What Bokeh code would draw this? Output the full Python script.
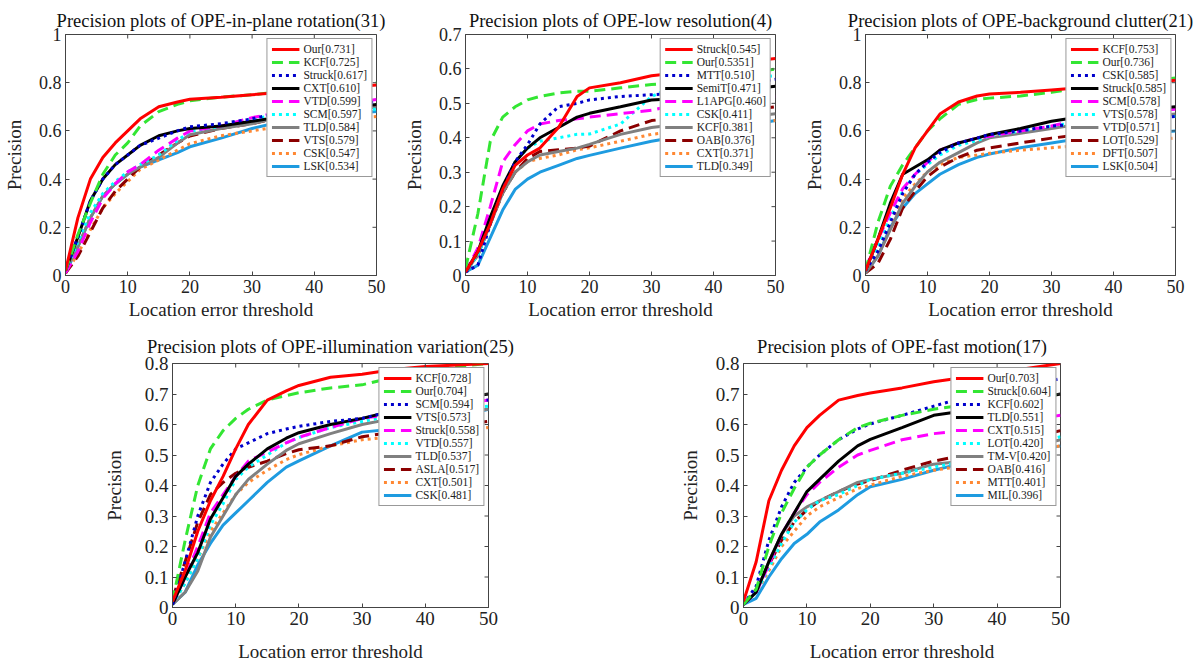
import math
from bokeh.plotting import figure
from bokeh.layouts import row, column
from bokeh.models import (Range1d, FixedTicker, Legend, LegendItem,
                          CustomJSTickFormatter, Spacer)
from bokeh.embed import file_html
from bokeh.resources import INLINE

# ---------------- data ----------------
X = [0, 2, 4, 6, 8, 10, 12, 15, 18, 20, 25, 30, 35, 40, 50]
X_TICKS = [0, 10, 20, 30, 40, 50]

P1_TITLE = "Precision plots of OPE-in-plane rotation(31)"
P1_NAMES = ["Our", "KCF", "Struck", "CXT", "VTD", "SCM", "TLD", "VTS", "CSK", "LSK"]
P1_SCORES = ["0.731", "0.725", "0.617", "0.610", "0.599", "0.597", "0.584", "0.579", "0.547", "0.534"]
P1_Y = [
    [0.02, 0.24, 0.40, 0.49, 0.55, 0.60, 0.65, 0.70, 0.72, 0.731, 0.74, 0.75, 0.76, 0.77, 0.79],
    [0.02, 0.17, 0.30, 0.42, 0.50, 0.55, 0.62, 0.68, 0.71, 0.725, 0.74, 0.75, 0.765, 0.78, 0.80],
    [0.02, 0.16, 0.31, 0.40, 0.46, 0.50, 0.54, 0.57, 0.60, 0.617, 0.63, 0.65, 0.68, 0.70, 0.72],
    [0.02, 0.16, 0.31, 0.40, 0.46, 0.50, 0.54, 0.58, 0.60, 0.610, 0.62, 0.64, 0.66, 0.68, 0.71],
    [0.01, 0.10, 0.22, 0.32, 0.38, 0.43, 0.46, 0.52, 0.57, 0.599, 0.62, 0.655, 0.68, 0.70, 0.73],
    [0.02, 0.14, 0.26, 0.34, 0.39, 0.43, 0.46, 0.50, 0.56, 0.597, 0.62, 0.65, 0.67, 0.68, 0.69],
    [0.02, 0.12, 0.24, 0.33, 0.38, 0.42, 0.45, 0.49, 0.55, 0.584, 0.61, 0.63, 0.66, 0.68, 0.70],
    [0.01, 0.08, 0.18, 0.28, 0.35, 0.40, 0.45, 0.50, 0.55, 0.579, 0.61, 0.63, 0.66, 0.68, 0.70],
    [0.01, 0.09, 0.19, 0.28, 0.34, 0.39, 0.44, 0.48, 0.52, 0.547, 0.58, 0.60, 0.62, 0.64, 0.66],
    [0.01, 0.12, 0.24, 0.33, 0.38, 0.42, 0.45, 0.48, 0.51, 0.534, 0.57, 0.61, 0.64, 0.66, 0.68],
]
P1_YMAX = 1.0
P1_YTICKS = [0, 0.2, 0.4, 0.6, 0.8, 1.0]

P2_TITLE = "Precision plots of OPE-low resolution(4)"
P2_NAMES = ["Struck", "Our", "MTT", "SemiT", "L1APG", "CSK", "KCF", "OAB", "CXT", "TLD"]
P2_SCORES = ["0.545", "0.5351", "0.510", "0.471", "0.460", "0.411", "0.381", "0.376", "0.371", "0.349"]
P2_Y = [
    [0.01, 0.07, 0.15, 0.25, 0.32, 0.35, 0.37, 0.43, 0.52, 0.545, 0.56, 0.58, 0.59, 0.61, 0.63],
    [0.02, 0.18, 0.39, 0.46, 0.49, 0.51, 0.52, 0.53, 0.535, 0.535, 0.545, 0.555, 0.56, 0.57, 0.60],
    [0.01, 0.03, 0.15, 0.25, 0.33, 0.38, 0.44, 0.49, 0.50, 0.510, 0.52, 0.525, 0.53, 0.54, 0.57],
    [0.01, 0.07, 0.17, 0.26, 0.33, 0.37, 0.40, 0.43, 0.46, 0.471, 0.49, 0.51, 0.515, 0.53, 0.55],
    [0.01, 0.08, 0.20, 0.33, 0.38, 0.42, 0.44, 0.45, 0.455, 0.460, 0.47, 0.48, 0.50, 0.51, 0.52],
    [0.01, 0.06, 0.15, 0.25, 0.33, 0.37, 0.39, 0.40, 0.41, 0.411, 0.44, 0.52, 0.56, 0.57, 0.58],
    [0.01, 0.06, 0.15, 0.24, 0.30, 0.33, 0.35, 0.36, 0.37, 0.381, 0.41, 0.43, 0.44, 0.45, 0.47],
    [0.01, 0.06, 0.15, 0.24, 0.30, 0.34, 0.36, 0.365, 0.37, 0.376, 0.42, 0.45, 0.46, 0.47, 0.49],
    [0.01, 0.06, 0.15, 0.24, 0.30, 0.33, 0.34, 0.35, 0.365, 0.371, 0.39, 0.41, 0.42, 0.43, 0.45],
    [0.01, 0.03, 0.11, 0.19, 0.25, 0.28, 0.30, 0.32, 0.34, 0.349, 0.37, 0.39, 0.405, 0.42, 0.45],
]
P2_YMAX = 0.7
P2_YTICKS = [0, 0.1, 0.2, 0.3, 0.4, 0.5, 0.6, 0.7]

P3_TITLE = "Precision plots of OPE-background clutter(21)"
P3_NAMES = ["KCF", "Our", "CSK", "Struck", "SCM", "VTS", "VTD", "LOT", "DFT", "LSK"]
P3_SCORES = ["0.753", "0.736", "0.585", "0.585", "0.578", "0.578", "0.571", "0.529", "0.507", "0.504"]
P3_Y = [
    [0.02, 0.15, 0.28, 0.42, 0.53, 0.60, 0.67, 0.72, 0.745, 0.753, 0.76, 0.77, 0.78, 0.79, 0.81],
    [0.02, 0.22, 0.37, 0.46, 0.53, 0.60, 0.65, 0.71, 0.73, 0.736, 0.745, 0.76, 0.78, 0.79, 0.82],
    [0.02, 0.10, 0.22, 0.34, 0.42, 0.47, 0.51, 0.55, 0.57, 0.585, 0.60, 0.62, 0.63, 0.64, 0.66],
    [0.02, 0.15, 0.30, 0.42, 0.45, 0.48, 0.52, 0.55, 0.57, 0.585, 0.61, 0.64, 0.66, 0.68, 0.70],
    [0.03, 0.15, 0.26, 0.36, 0.42, 0.47, 0.52, 0.55, 0.57, 0.578, 0.60, 0.62, 0.65, 0.67, 0.69],
    [0.02, 0.12, 0.24, 0.35, 0.42, 0.46, 0.50, 0.54, 0.56, 0.578, 0.60, 0.62, 0.64, 0.65, 0.66],
    [0.01, 0.08, 0.19, 0.30, 0.37, 0.43, 0.47, 0.51, 0.55, 0.571, 0.59, 0.61, 0.63, 0.65, 0.67],
    [0.01, 0.05, 0.15, 0.28, 0.35, 0.41, 0.45, 0.49, 0.52, 0.529, 0.55, 0.57, 0.585, 0.59, 0.60],
    [0.02, 0.10, 0.20, 0.32, 0.38, 0.43, 0.46, 0.49, 0.50, 0.507, 0.52, 0.53, 0.54, 0.55, 0.57],
    [0.01, 0.08, 0.20, 0.28, 0.34, 0.38, 0.42, 0.46, 0.49, 0.504, 0.53, 0.55, 0.57, 0.58, 0.60],
]
P3_YMAX = 1.0
P3_YTICKS = [0, 0.2, 0.4, 0.6, 0.8, 1.0]

P4_TITLE = "Precision plots of OPE-illumination variation(25)"
P4_NAMES = ["KCF", "Our", "SCM", "VTS", "Struck", "VTD", "TLD", "ASLA", "CXT", "CSK"]
P4_SCORES = ["0.728", "0.704", "0.594", "0.573", "0.558", "0.557", "0.537", "0.517", "0.501", "0.481"]
P4_Y = [
    [0.02, 0.12, 0.25, 0.35, 0.43, 0.52, 0.60, 0.68, 0.71, 0.728, 0.755, 0.765, 0.78, 0.79, 0.80],
    [0.02, 0.22, 0.40, 0.52, 0.58, 0.62, 0.65, 0.68, 0.695, 0.704, 0.72, 0.73, 0.755, 0.78, 0.80],
    [0.01, 0.15, 0.30, 0.41, 0.47, 0.52, 0.54, 0.57, 0.585, 0.594, 0.61, 0.62, 0.645, 0.66, 0.68],
    [0.01, 0.10, 0.18, 0.29, 0.36, 0.43, 0.47, 0.52, 0.555, 0.573, 0.60, 0.62, 0.645, 0.67, 0.70],
    [0.01, 0.10, 0.20, 0.31, 0.37, 0.43, 0.48, 0.51, 0.54, 0.558, 0.59, 0.62, 0.635, 0.65, 0.68],
    [0.01, 0.08, 0.16, 0.27, 0.34, 0.42, 0.46, 0.50, 0.54, 0.557, 0.59, 0.61, 0.63, 0.64, 0.66],
    [0.01, 0.05, 0.12, 0.23, 0.30, 0.37, 0.42, 0.47, 0.515, 0.537, 0.57, 0.60, 0.62, 0.63, 0.65],
    [0.03, 0.15, 0.28, 0.37, 0.41, 0.44, 0.46, 0.48, 0.505, 0.517, 0.53, 0.56, 0.575, 0.59, 0.61],
    [0.01, 0.08, 0.16, 0.25, 0.31, 0.37, 0.41, 0.45, 0.485, 0.501, 0.53, 0.55, 0.56, 0.57, 0.59],
    [0.01, 0.05, 0.14, 0.21, 0.27, 0.31, 0.35, 0.41, 0.46, 0.481, 0.53, 0.575, 0.585, 0.60, 0.65],
]
P4_YMAX = 0.8
P4_YTICKS = [0, 0.1, 0.2, 0.3, 0.4, 0.5, 0.6, 0.7, 0.8]

P5_TITLE = "Precision plots of OPE-fast motion(17)"
P5_NAMES = ["Our", "Struck", "KCF", "TLD", "CXT", "LOT", "TM-V", "OAB", "MTT", "MIL"]
P5_SCORES = ["0.703", "0.604", "0.602", "0.551", "0.515", "0.420", "0.420", "0.416", "0.401", "0.396"]
P5_Y = [
    [0.02, 0.15, 0.35, 0.45, 0.53, 0.59, 0.63, 0.68, 0.695, 0.703, 0.72, 0.74, 0.755, 0.77, 0.80],
    [0.01, 0.06, 0.20, 0.31, 0.39, 0.46, 0.50, 0.55, 0.59, 0.604, 0.63, 0.65, 0.665, 0.68, 0.70],
    [0.01, 0.07, 0.22, 0.33, 0.41, 0.46, 0.50, 0.55, 0.585, 0.602, 0.63, 0.66, 0.69, 0.71, 0.75],
    [0.01, 0.05, 0.15, 0.24, 0.31, 0.38, 0.42, 0.48, 0.53, 0.551, 0.59, 0.63, 0.645, 0.66, 0.70],
    [0.01, 0.05, 0.14, 0.24, 0.31, 0.37, 0.41, 0.46, 0.50, 0.515, 0.55, 0.57, 0.58, 0.60, 0.63],
    [0.01, 0.05, 0.13, 0.21, 0.28, 0.32, 0.35, 0.37, 0.40, 0.420, 0.44, 0.46, 0.48, 0.51, 0.56],
    [0.01, 0.05, 0.15, 0.24, 0.30, 0.33, 0.35, 0.38, 0.41, 0.420, 0.44, 0.47, 0.48, 0.50, 0.55],
    [0.01, 0.06, 0.14, 0.22, 0.28, 0.32, 0.35, 0.38, 0.405, 0.416, 0.45, 0.48, 0.50, 0.53, 0.58],
    [0.01, 0.05, 0.12, 0.20, 0.25, 0.30, 0.33, 0.36, 0.39, 0.401, 0.43, 0.45, 0.465, 0.49, 0.53],
    [0.01, 0.03, 0.10, 0.16, 0.21, 0.24, 0.28, 0.32, 0.37, 0.396, 0.42, 0.45, 0.475, 0.49, 0.53],
]
P5_YMAX = 0.8
P5_YTICKS = [0, 0.1, 0.2, 0.3, 0.4, 0.5, 0.6, 0.7, 0.8]

# ---------------- styles ----------------
COLORS = ["#FF0000", "#33E633", "#0000CC", "#000000", "#FF00FF",
          "#00FFFF", "#808080", "#8B0000", "#FF8833", "#1E9BE0"]
DASHES = ["solid", "11 6", "3 4", "solid", "11 6",
          "3 4", "solid", "11 6", "3 4", "solid"]
SERIF = "Liberation Serif"
AXC = "#444444"


def make_plot(title, names, scores, ys, ymax, yticks, bl, br, bt, bb, fw, fh,
              tick_fs, title_standoff, xlab_standoff, ylab_standoff):
    p = figure(frame_width=fw, frame_height=fh, output_backend="svg",
               toolbar_location=None, tools="",
               x_range=Range1d(0, 50), y_range=Range1d(0, ymax),
               min_border_left=bl, min_border_right=br,
               min_border_top=bt, min_border_bottom=bb)
    p.title.text = title
    p.title.align = "center"
    p.title.text_font = SERIF
    p.title.text_font_size = "18.5px"
    p.title.text_font_style = "normal"
    p.title.text_color = "#111111"
    p.title.standoff = title_standoff
    p.grid.visible = False
    p.outline_line_color = AXC
    p.background_fill_color = "white"

    fmt = CustomJSTickFormatter(code="return tick.toFixed(1).replace(/\\.0$/, '')")
    for ax, ticks in ((p.xaxis[0], X_TICKS), (p.yaxis[0], yticks)):
        ax.ticker = FixedTicker(ticks=ticks)
        ax.major_tick_in = 4
        ax.major_tick_out = 0
        ax.minor_tick_line_color = None
        ax.axis_line_color = AXC
        ax.major_tick_line_color = AXC
        ax.major_label_text_font = SERIF
        ax.major_label_text_font_size = tick_fs
        ax.major_label_text_color = "#222222"
        ax.major_label_standoff = 4
        ax.axis_label_text_font = SERIF
        ax.axis_label_text_font_size = "19px"
        ax.axis_label_text_font_style = "normal"
        ax.axis_label_text_color = "#222222"
    p.yaxis[0].formatter = fmt
    p.xaxis[0].axis_label = "Location error threshold"
    p.yaxis[0].axis_label = "Precision"
    p.xaxis[0].axis_label_standoff = xlab_standoff
    p.yaxis[0].axis_label_standoff = ylab_standoff

    # inward ticks on the top and right edges of the box
    p.scatter(X_TICKS, [ymax] * len(X_TICKS), marker="dash", angle=math.pi / 2,
              size=8, line_color=AXC, line_width=1)
    p.scatter([50] * len(yticks), yticks, marker="dash", angle=0,
              size=8, line_color=AXC, line_width=1)

    renderers = []
    for i in range(len(names)):
        r = p.line(X, ys[i], line_color=COLORS[i], line_dash=DASHES[i], line_width=3)
        renderers.append(r)
    # draw first entries on top
    others = [r for r in p.renderers if r not in renderers]
    p.renderers = renderers[::-1] + others

    items = [LegendItem(label=f"{n}[{s}]", renderers=[r])
             for n, s, r in zip(names, scores, renderers)]
    leg = Legend(items=items, location="top_right", margin=4, padding=4, spacing=1,
                 glyph_width=28, glyph_height=12, label_height=12, label_standoff=4,
                 label_text_font=SERIF, label_text_font_size="11.5px",
                 label_text_line_height=1.0,
                 label_text_color="#222222", border_line_color="#333333",
                 border_line_width=1, background_fill_alpha=1.0)
    p.add_layout(leg)
    return p


f1 = make_plot(P1_TITLE, P1_NAMES, P1_SCORES, P1_Y, P1_YMAX, P1_YTICKS,
               65, 24, 34, 51, 311, 241, "18px", 8, 3, 11)
f2 = make_plot(P2_TITLE, P2_NAMES, P2_SCORES, P2_Y, P2_YMAX, P2_YTICKS,
               65, 15, 34, 51, 310, 241, "18px", 8, 3, 11)
f3 = make_plot(P3_TITLE, P3_NAMES, P3_SCORES, P3_Y, P3_YMAX, P3_YTICKS,
               75, 20, 34, 51, 310, 241, "18px", 8, 3, 11)
f4 = make_plot(P4_TITLE, P4_NAMES, P4_SCORES, P4_Y, P4_YMAX, P4_YTICKS,
               77, 188, 37, 55, 316, 244, "19px", 14, 13, 17)
f5 = make_plot(P5_TITLE, P5_NAMES, P5_SCORES, P5_Y, P5_YMAX, P5_YTICKS,
               67, 129, 37, 55, 317, 244, "19px", 14, 13, 12)

layout = column(row(f1, f2, f3), row(Spacer(width=95, height=10), f4, f5))

with open("out.html", "w") as fh:
    fh.write(file_html(layout, INLINE))
